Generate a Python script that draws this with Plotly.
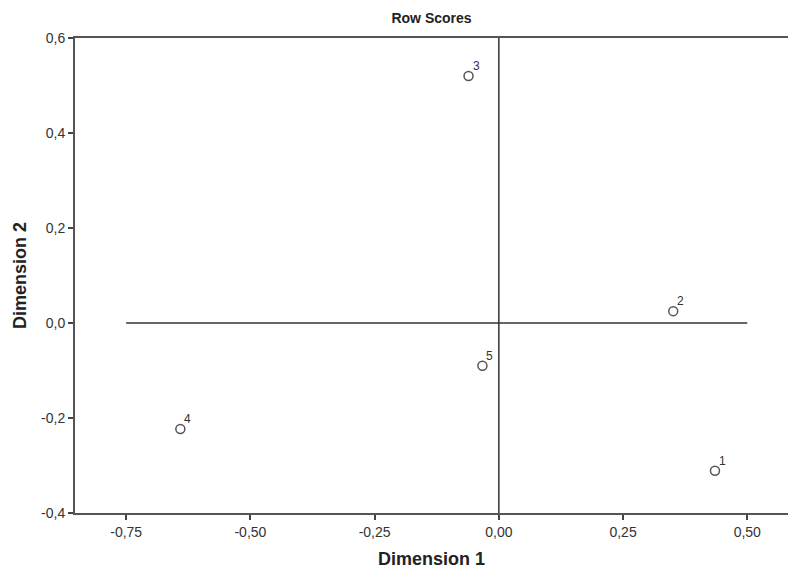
import plotly.graph_objects as go

labels = ["1", "2", "3", "4", "5"]
dim1 = [0.435, 0.351, -0.061, -0.641, -0.033]
dim2 = [-0.311, 0.025, 0.520, -0.223, -0.090]

x_ticks = [-0.75, -0.50, -0.25, 0.0, 0.25, 0.50]
y_ticks = [-0.4, -0.2, 0.0, 0.2, 0.4, 0.6]
hline_x = [-0.75, 0.50]
vline_y = [-0.4, 0.6]

def fmt(v, d):
    return f"{v:.{d}f}".replace(".", ",")

font = "Liberation Sans, Arial, sans-serif"
fig = go.Figure()
fig.add_trace(go.Scatter(x=hline_x, y=[0, 0], mode="lines",
                         line=dict(color="#333333", width=1.5), hoverinfo="skip", showlegend=False))
fig.add_trace(go.Scatter(x=[0, 0], y=vline_y, mode="lines",
                         line=dict(color="#333333", width=1.5), hoverinfo="skip", showlegend=False))
fig.add_trace(go.Scatter(x=dim1, y=dim2, mode="markers",
                         marker=dict(symbol="circle-open", size=9, color="#555555", line=dict(width=1.5)),
                         showlegend=False))
for xv, yv, lab in zip(dim1, dim2, labels):
    fig.add_annotation(x=xv, y=yv, text=lab, showarrow=False, xanchor="left", yanchor="bottom",
                       xshift=2, yshift=1, font=dict(size=12, color="#333333", family=font))

fig.update_layout(
    width=788, height=569,
    margin=dict(l=75, r=0, t=38, b=56),
    paper_bgcolor="white", plot_bgcolor="white",
    font=dict(family=font, color="#333333"),
    title=dict(text="<b>Row Scores</b>", x=0.5476, xanchor="center", y=0.968, yanchor="middle",
               font=dict(size=14, color="#222222")),
)
fig.update_xaxes(range=[-0.853, 0.582], tickvals=x_ticks, ticktext=[fmt(v, 2) for v in x_ticks],
                 automargin=False,
                 showgrid=False, zeroline=False, showline=True, linecolor="#555555", linewidth=2,
                 mirror=True, ticks="outside", ticklen=5, tickwidth=2, tickcolor="#444444",
                 tickfont=dict(size=14, color="#333333"),
                 title=dict(text="<b>Dimension 1</b>", font=dict(size=18, color="#222222"), standoff=16))
fig.update_yaxes(range=[-0.4, 0.6], tickvals=y_ticks, ticktext=[fmt(v, 1) for v in y_ticks],
                 automargin=False,
                 showgrid=False, zeroline=False, showline=True, linecolor="#555555", linewidth=2,
                 ticks="outside", ticklen=5, tickwidth=2, tickcolor="#444444",
                 tickfont=dict(size=14, color="#333333"),
                 title=dict(text="<b>Dimension 2</b>", font=dict(size=18, color="#222222"), standoff=10))

fig.write_html("out.html", config={"displayModeBar": False},
               post_script="document.body.style.margin='0';document.body.style.overflow='hidden';")
